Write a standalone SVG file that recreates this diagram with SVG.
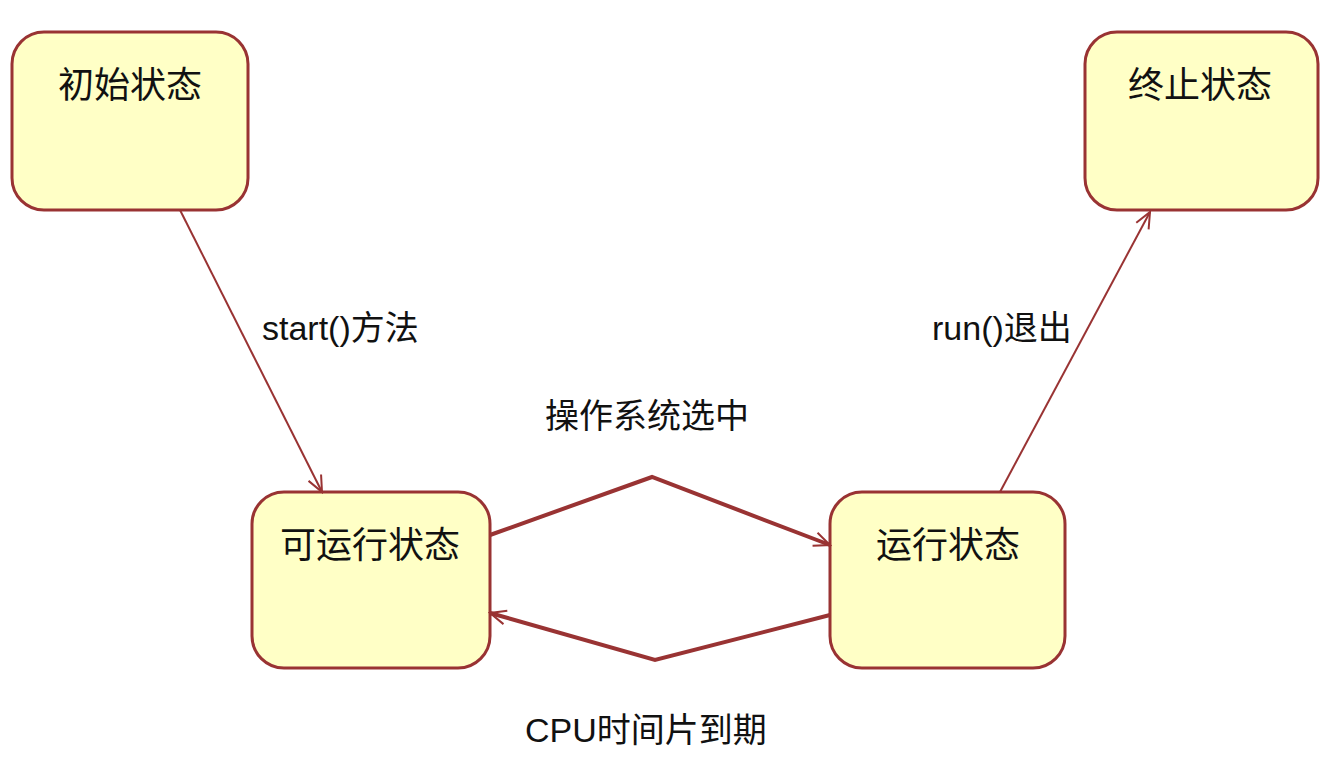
<svg xmlns="http://www.w3.org/2000/svg" width="1336" height="761" viewBox="0 0 1336 761">
<defs>
<marker id="a" viewBox="0 0 20 20" refX="18" refY="10" markerWidth="20" markerHeight="20" markerUnits="userSpaceOnUse" orient="auto"><path d="M2,3 L18,10 L2,17" fill="none" stroke="#993333" stroke-width="2"/></marker>
<style>
.n{fill:#ffffc6;stroke:#993333;stroke-width:3}
.t{font-family:"Noto Sans CJK SC","Liberation Sans",sans-serif;font-size:36px;fill:#111}
.l{font-family:"Liberation Sans","Noto Sans CJK SC",sans-serif;font-size:34px;fill:#111}
.c{fill:none;stroke:#993333;stroke-width:2;marker-end:url(#a)}
.w{stroke-width:4}
</style>
</defs>
<rect width="1336" height="761" fill="#fff"/>
<g id="init"><rect class="n" x="12" y="32" width="236" height="178" rx="32"/><text class="t" x="130" y="98" text-anchor="middle">初始状态</text></g>
<g id="end"><rect class="n" x="1085" y="32" width="233" height="178" rx="32"/><text class="t" x="1200" y="98" text-anchor="middle">终止状态</text></g>
<g id="ready"><rect class="n" x="252" y="492" width="238" height="176" rx="32"/><text class="t" x="370" y="558" text-anchor="middle">可运行状态</text></g>
<g id="run"><rect class="n" x="830" y="492" width="235" height="176" rx="32"/><text class="t" x="948" y="558" text-anchor="middle">运行状态</text></g>
<g id="connectors">
<path class="c" d="M180,210 L322,492"/>
<path class="c w" d="M490,535 L652,477 L830,545"/>
<path class="c w" d="M830,615 L655,660 L490,613"/>
<path class="c" d="M1000,492 L1150,212"/>
<text class="l" x="262" y="340">start()方法</text>
<text class="l" x="545" y="428">操作系统选中</text>
<text class="l" x="525" y="742">CPU时间片到期</text>
<text class="l" x="932" y="340">run()退出</text>
</g>
</svg>
